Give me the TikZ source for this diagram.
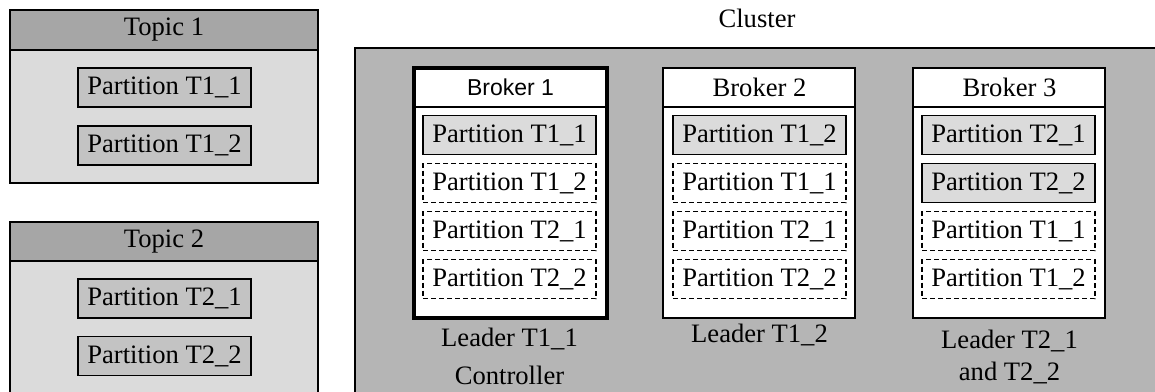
\documentclass[tikz,border=0pt]{standalone}
\usepackage{fontspec}
\setmainfont{Liberation Serif}
\setsansfont{Liberation Sans}
\usetikzlibrary{positioning}

\definecolor{topicbody}{HTML}{DBDBDB}
\definecolor{topichead}{HTML}{A6A6A6}
\definecolor{topicpart}{HTML}{C3C3C3}
\definecolor{clusterbg}{HTML}{B5B5B5}
\definecolor{leadpart}{HTML}{DBDBDB}

\begin{document}
\begin{tikzpicture}[x=0.5pt, y=-0.5pt, font=\fontsize{13.3}{15}\selectfont,
  thinline/.style={line width=0.8pt},
  part/.style={thinline, minimum width=86.5pt, minimum height=19.5pt, inner sep=0pt},
  tpart/.style={part, draw, fill=topicpart},
  lead/.style={part, draw, fill=leadpart},
  follow/.style={part, draw, dash pattern=on 2.5pt off 1.5pt},
]
\useasboundingbox (0,0) rectangle (1155,391);

% topics
\draw[thinline, fill=topicbody] (10,10) rectangle (318,183);
\draw[thinline, fill=topichead] (10,10) rectangle (318,50);
\node (t1) at (164,30) {Topic 1};
\node[tpart] (t1p1) at (164.5,87.5) {Partition T1\_1};
\node[tpart] (t1p2) at (164.5,145.5) {Partition T1\_2};

\draw[thinline, fill=topicbody] (10,222) rectangle (318,400);
\draw[thinline, fill=topichead] (10,222) rectangle (318,261);
\node (t2) at (164,241.5) {Topic 2};
\node[tpart] (t2p1) at (164.5,298.5) {Partition T2\_1};
\node[tpart] (t2p2) at (164.5,356) {Partition T2\_2};

% cluster
\node (cl) at (757,18) {Cluster};
\draw[thinline, fill=clusterbg] (355,48) rectangle (1165,400);

% brokers
\draw[line width=2.2pt, fill=white] (414,68) rectangle (607,318);
\draw[thinline] (414,107) -- (607,107);
\node[font=\sffamily\fontsize{11.5}{14}\selectfont] (b1) at (510.5,87.5) {Broker 1};
\foreach \i/\lbl/\sty in {1/T1\_1/lead, 2/T1\_2/follow, 3/T2\_1/follow, 4/T2\_2/follow}
  \node[\sty] (b1p\i) at (509.5,{87+48*\i}) {Partition \lbl};
\node[align=center] (b1lbl) at (509.5,356) {Leader T1\_1\\[4pt]Controller};

\draw[thinline, fill=white] (663,68) rectangle (855,318);
\draw[thinline] (663,107) -- (855,107);
\node (b2) at (759.5,87.5) {Broker 2};
\foreach \i/\lbl/\sty in {1/T1\_2/lead, 2/T1\_1/follow, 3/T2\_1/follow, 4/T2\_2/follow}
  \node[\sty] (b2p\i) at (759.5,{87+48*\i}) {Partition \lbl};
\node (b2lbl) at (759.5,335) {Leader T1\_2};

\draw[thinline, fill=white] (913,68) rectangle (1105,318);
\draw[thinline] (913,107) -- (1105,107);
\node (b3) at (1009.5,87.5) {Broker 3};
\foreach \i/\lbl/\sty in {1/T2\_1/lead, 2/T2\_2/lead, 3/T1\_1/follow, 4/T1\_2/follow}
  \node[\sty] (b3p\i) at (1008.5,{87+48*\i}) {Partition \lbl};
\node[align=center] (b3lbl) at (1009.5,357) {Leader T2\_1\\[1pt]and T2\_2};

\end{tikzpicture}
\end{document}
